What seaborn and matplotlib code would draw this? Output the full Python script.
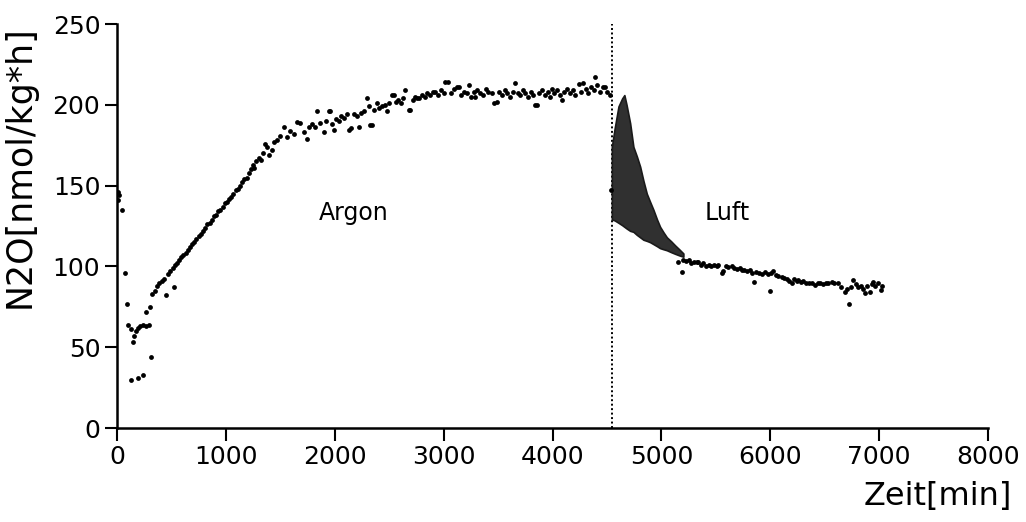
import matplotlib
matplotlib.use("Agg")
import matplotlib.pyplot as plt
import seaborn as sns
import pandas as pd

# ---------------- data ----------------
argon_early = [(5, 146), (12, 141), (20, 144), (50, 135), (72, 96), (95, 77), (105, 64),
               (125, 61), (147, 53), (160, 57), (172, 60), (190, 62), (215, 63), (240, 64),
               (265, 63), (290, 64), (130, 30), (195, 31), (240, 33), (310, 44), (265, 72),
               (300, 75), (325, 83), (345, 85), (365, 88), (385, 89.5)]

argon_rise = [(410, 91), (430, 92), (452, 82), (470, 95), (490, 97), (510, 99), (523, 87),
              (530, 101), (550, 102), (570, 104), (590, 106), (610, 107), (630, 108.5),
              (650, 110), (670, 112), (690, 114), (710, 115), (730, 117), (750, 119),
              (770, 120), (790, 122), (810, 124), (830, 126), (850, 127), (870, 129),
              (890, 131), (910, 132), (930, 134), (950, 135), (970, 137), (990, 139),
              (1010, 140), (1030, 142), (1050, 143), (1070, 145), (1090, 147), (1110, 148),
              (1130, 150), (1150, 152), (1170, 154), (1190, 155), (1210, 158), (1230, 160),
              (1245, 163), (1260, 161), (1280, 165), (1300, 167), (1320, 166), (1340, 170),
              (1362, 176), (1378, 174), (1395, 169), (1424, 172), (1439, 177), (1470, 178),
              (1500, 181), (1530, 186.5), (1560, 180), (1590, 184), (1624, 182),
              (1654, 189.6), (1683, 188.6), (1714, 183), (1745, 179), (1760, 186),
              (1790, 188), (1815, 186), (1837, 196), (1865, 189), (1897, 183), (1920, 190),
              (1943, 196), (1959, 196), (1975, 188), (1989, 184.5)]

argon_plateau = [(2010, 191), (2035, 190), (2060, 193), (2085, 192), (2110, 194),
                 (2128, 184.5), (2150, 185.5), (2175, 194), (2200, 193), (2220, 186.5),
                 (2245, 195), (2270, 196), (2296, 204), (2312, 199), (2327, 187.5),
                 (2342, 187.5), (2365, 197), (2388, 201), (2410, 198), (2435, 199),
                 (2460, 200), (2480, 196), (2500, 201), (2526, 206), (2541, 206),
                 (2560, 202), (2585, 203), (2610, 201), (2630, 204), (2649, 209),
                 (2679, 197), (2693, 197), (2715, 203), (2740, 205), (2755, 204),
                 (2771, 204), (2800, 206), (2825, 205), (2850, 207), (2875, 206),
                 (2907, 208), (2924, 208), (2950, 206), (2975, 209), (3000, 207),
                 (3015, 214), (3044, 214.4), (3070, 207), (3095, 210), (3120, 211),
                 (3138, 211), (3160, 206), (3185, 208), (3213, 207), (3229, 212),
                 (3250, 205), (3275, 208), (3291, 205), (3310, 209), (3335, 207),
                 (3360, 206), (3385, 210), (3410, 208), (3443, 207), (3459, 201),
                 (3488, 202), (3510, 208), (3535, 206), (3560, 209), (3585, 207),
                 (3610, 205), (3635, 208), (3656, 213.4), (3680, 207), (3700, 206),
                 (3725, 209), (3750, 207), (3775, 205), (3800, 208), (3825, 206),
                 (3841, 200), (3855, 200), (3880, 207), (3905, 209), (3930, 206),
                 (3955, 208), (3980, 205), (3994, 210), (4015, 207), (4040, 209),
                 (4065, 206), (4086, 203), (4110, 208), (4135, 210), (4160, 207),
                 (4185, 209), (4210, 206), (4239, 213), (4260, 208), (4283, 213.4),
                 (4305, 210), (4330, 207), (4355, 211), (4380, 209), (4392, 217.5),
                 (4410, 212), (4435, 208), (4460, 211), (4483, 211), (4505, 208),
                 (4529, 206)]

luft_tail = [(4540, 147), (5156, 103), (5187, 96.7), (5200, 104), (5225, 103.5), (5250, 104),
             (5275, 102), (5300, 103), (5325, 102.5), (5339, 103), (5360, 101), (5385, 102),
             (5410, 100.5), (5435, 101), (5460, 100), (5485, 101), (5510, 100), (5523, 101),
             (5554, 95.7), (5569, 97), (5590, 100), (5615, 99.5), (5645, 100), (5670, 99),
             (5695, 98.5), (5720, 99), (5737, 97.7), (5760, 98), (5785, 97), (5810, 97.5),
             (5835, 96), (5853, 90.5), (5870, 96.5), (5895, 96), (5920, 95), (5951, 96.7),
             (5975, 95), (5997, 85), (6010, 96), (6028, 97), (6050, 94.5), (6075, 94),
             (6104, 93.6), (6125, 93), (6150, 92.5), (6175, 91), (6196, 89.5), (6220, 92),
             (6245, 91), (6257, 91.5), (6280, 90.5), (6305, 91), (6330, 90), (6355, 89.5),
             (6380, 90), (6410, 88.4), (6435, 89.5), (6460, 90), (6485, 89), (6510, 90),
             (6535, 89.5), (6563, 90.5), (6590, 90), (6624, 89.5), (6650, 87), (6685, 84.3),
             (6705, 86), (6722, 77), (6740, 87), (6761, 91.5), (6785, 89), (6807, 87.4),
             (6830, 88), (6850, 86), (6869, 83.3), (6890, 88), (6915, 84.3), (6930, 89),
             (6945, 90.5), (6965, 88), (6991, 89.5), (7015, 85.7), (7030, 88)]

# dense band of overlapping points right after switching to air
dense_min = [4545, 4570, 4606, 4640, 4660, 4680, 4713, 4743, 4775, 4805, 4835, 4866,
             4896, 4927, 4960, 4988, 5020, 5050, 5090, 5126, 5165, 5202]
dense_top = [174, 185, 199, 204, 206, 200, 188.6, 174, 168, 161.7, 153, 145, 140, 135,
             129, 124.5, 121, 118, 115.5, 113, 110.5, 108]
dense_bottom = [129, 128.5, 127, 125.5, 124.5, 123.5, 122, 121.4, 119.5, 118, 116.5,
                115.8, 115, 113.8, 112.5, 111.3, 110.6, 110, 108.8, 107.8, 106.8, 106]

switch_min = 4550
x_ticks = [0, 1000, 2000, 3000, 4000, 5000, 6000, 7000, 8000]
y_ticks = [0, 50, 100, 150, 200, 250]
phase_labels = [("Argon", 2172, 133), ("Luft", 5607, 133)]

# ---------------- figure ----------------
sns.set_style("ticks")
plt.rcParams["font.family"] = ["DejaVu Sans"]
plt.rcParams["axes.labelcolor"] = "black"
plt.rcParams["text.color"] = "black"

fig = plt.figure(figsize=(10.26, 5.22), dpi=100)
ax = fig.add_axes([117 / 1026, 1 - 428 / 522, (988 - 117) / 1026, (428 - 24) / 522])

rows = []
for seg in (argon_early, argon_rise, argon_plateau, luft_tail):
    rows.extend(seg)
df = pd.DataFrame(rows, columns=["Zeit", "N2O"])

ax.fill_between(dense_min, dense_bottom, dense_top, color="#303030", linewidth=1.2,
                edgecolor="#1a1a1a", zorder=2)
sns.scatterplot(data=df, x="Zeit", y="N2O", ax=ax, color="black", s=12,
                linewidth=0, zorder=3, legend=False)

ax.axvline(switch_min, color="black", linestyle=(0, (1, 1.3)), linewidth=1.4, zorder=1)

for txt, xv, yv in phase_labels:
    ax.text(xv, yv, txt, fontsize=17, ha="center", va="center", color="black")

ax.set_xlim(0, 8000)
ax.set_ylim(0, 250)
ax.set_xticks(x_ticks)
ax.set_yticks(y_ticks)
ax.set_xticklabels([str(v) for v in x_ticks], fontsize=18)
ax.set_yticklabels([str(v) for v in y_ticks], fontsize=18)
ax.tick_params(axis="both", direction="out", length=9, width=1.5, pad=3, colors="black")

for side in ("top", "right"):
    ax.spines[side].set_visible(False)
for side in ("left", "bottom"):
    ax.spines[side].set_linewidth(1.8)
    ax.spines[side].set_color("black")

ax.set_ylabel("N2O[nmol/kg*h]", fontsize=25)
ax.yaxis.set_label_coords(-0.092, 0.646)
ax.set_xlabel("Zeit[min]", fontsize=23, loc="right")
ax.xaxis.set_label_coords(1.028, -0.13)

fig.savefig("out.png", dpi=100, facecolor="white")
